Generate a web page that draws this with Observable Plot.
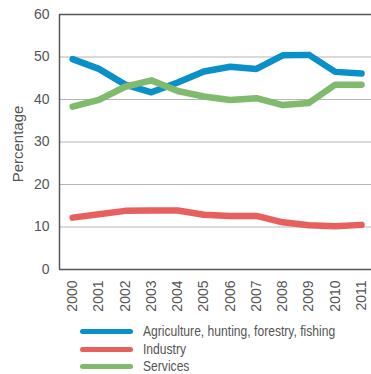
<!DOCTYPE html>
<html>
<head>
<meta charset="utf-8">
<script src="https://cdn.jsdelivr.net/npm/d3@7"></script>
<script src="https://cdn.jsdelivr.net/npm/@observablehq/plot@0.6"></script>
<style>
  html, body { margin: 0; padding: 0; background: #fff; }
  #wrap { position: relative; width: 371px; height: 374px; font-family: "Liberation Sans", Arial, sans-serif; }
  #legend { position: absolute; left: 80px; top: 322px; }
  .row { position: relative; height: 17.5px; }
  .sw { position: absolute; left: 0; top: 7px; width: 53px; height: 5px; border-radius: 3px; }
  .lab { position: absolute; left: 63px; top: 0px; font-family: "Liberation Sans", Arial, sans-serif; font-size: 14.5px; color: #555; line-height: 18px; white-space: nowrap; transform: scaleX(0.835); transform-origin: 0 50%; }
</style>
</head>
<body>
<div id="wrap"><div id="chart"></div><div id="legend"></div></div>
<script>
const years = [2000, 2001, 2002, 2003, 2004, 2005, 2006, 2007, 2008, 2009, 2010, 2011];
const agriculture = [49.5, 47.2, 43.5, 41.7, 44.0, 46.6, 47.7, 47.2, 50.4, 50.5, 46.5, 46.1];
const industry = [12.2, 13.0, 13.8, 13.9, 13.9, 12.9, 12.6, 12.6, 11.1, 10.4, 10.2, 10.5];
const services = [38.3, 39.9, 43.0, 44.5, 42.0, 40.7, 39.9, 40.3, 38.7, 39.2, 43.5, 43.5];
const seriesNames = ["Agriculture, hunting, forestry, fishing", "Industry", "Services"];
const seriesColors = ["#0a90c8", "#e8605e", "#80ba6c"];
const yTicks = [0, 10, 20, 30, 40, 50, 60];

const data = [];
[agriculture, industry, services].forEach((arr, i) => {
  arr.forEach((v, j) => data.push({ year: years[j], value: v, series: seriesNames[i] }));
});

const chart = Plot.plot({
  width: 371,
  height: 322,
  marginTop: 14,
  marginBottom: 53,
  marginLeft: 59,
  marginRight: 0,
  style: { fontFamily: "Liberation Sans, Arial, sans-serif", fontSize: "14px", color: "#555", background: "#fff" },
  x: { type: "linear", domain: [1999.5, 2011.38] },
  y: { domain: [0, 60] },
  color: { domain: seriesNames, range: seriesColors },
  marks: [
    Plot.gridY(yTicks, { stroke: "#b5b5b5", strokeOpacity: 1, strokeWidth: 1.2 }),
    Plot.ruleY([0, 60], { stroke: "#555", strokeWidth: 1.5 }),
    Plot.ruleX([1999.5], { stroke: "#555", strokeWidth: 1.5 }),
    Plot.line(data, { x: "year", y: "value", z: "series", stroke: "series", strokeWidth: 6.5, strokeLinecap: "round", strokeLinejoin: "round" }),
    Plot.axisY(yTicks, { tickSize: 0, tickPadding: 10, label: null, fontSize: 14, fill: "#555" }),
    Plot.text(["Percentage"], { frameAnchor: "left", dx: -41, dy: 2, rotate: -90, textAnchor: "middle", fontSize: 15, fill: "#555" }),
    Plot.axisX(years, { tickSize: 0, tickPadding: 11, tickRotate: -90, tickFormat: d => String(d), label: null, fontSize: 14, fill: "#555" })
  ]
});
document.getElementById("chart").appendChild(chart);

const legend = document.getElementById("legend");
seriesNames.forEach((name, i) => {
  const row = document.createElement("div");
  row.className = "row";
  const sw = document.createElement("div");
  sw.className = "sw";
  sw.style.background = seriesColors[i];
  const lab = document.createElement("div");
  lab.className = "lab";
  lab.textContent = name;
  row.appendChild(sw);
  row.appendChild(lab);
  legend.appendChild(row);
});
</script>
</body>
</html>
